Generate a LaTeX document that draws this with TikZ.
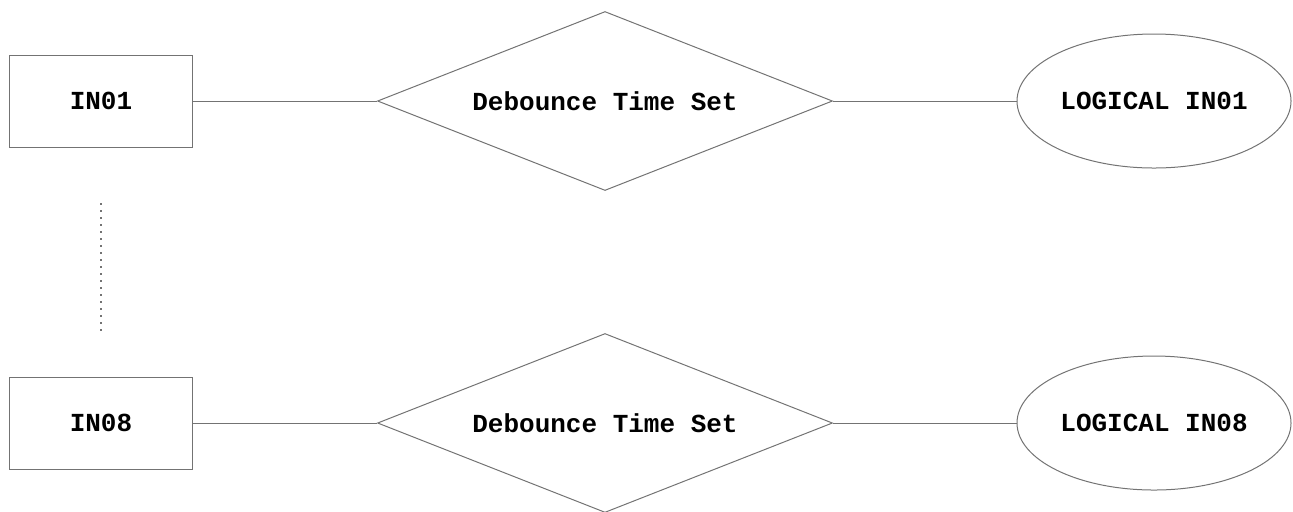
\documentclass[tikz,border=0pt]{standalone}
\usepackage{fontspec}
\setmonofont{Liberation Mono}
\usetikzlibrary{shapes.geometric}

\tikzset{
	inbox/.style={draw=black!55, line width=0.5pt, minimum width=91.5pt, minimum height=46pt, font=\ttfamily\bfseries\fontsize{13}{15}\selectfont},
	setbox/.style={diamond, draw=black!55, line width=0.5pt, shape aspect=2.5, minimum width=227.5pt, minimum height=89.5pt, inner sep=0pt, font=\ttfamily\bfseries\fontsize{13}{15}\selectfont},
	logicbox/.style={ellipse, draw=black!55, line width=0.5pt, minimum width=137pt, minimum height=67pt, inner sep=0pt, font=\ttfamily\bfseries\fontsize{13}{15}\selectfont},
	link/.style={draw=black!55, line width=0.5pt}
}

\begin{document}
\begin{tikzpicture}[x=0.5pt, y=-0.5pt]
	\useasboundingbox (0,0) rectangle (1293,511);
% first input
	\node[inbox] (in1) at (101,101) {IN01};
	\node[setbox] (set1) at (605,101) {Debounce Time Set};
	\node[logicbox] (log1) at (1154,101) {LOGICAL IN01};
	\draw[link] (in1) -- (set1);
	\draw[link] (set1) -- (log1);
% last input
	\node[inbox] (in8) at (101,423) {IN08};
	\node[setbox] (set8) at (605,423) {Debounce Time Set};
	\node[logicbox] (log8) at (1154,423) {LOGICAL IN08};
	\draw[link] (in8) -- (set8);
	\draw[link] (set8) -- (log8);
% inputs in between
	\coordinate (gaptop) at (101,203);
	\coordinate (gapbot) at (101,331);
	\draw[draw=black!55, line width=0.8pt, dash pattern=on 0.8pt off 2.7pt] (gaptop) -- (gapbot);
\end{tikzpicture}
\end{document}
